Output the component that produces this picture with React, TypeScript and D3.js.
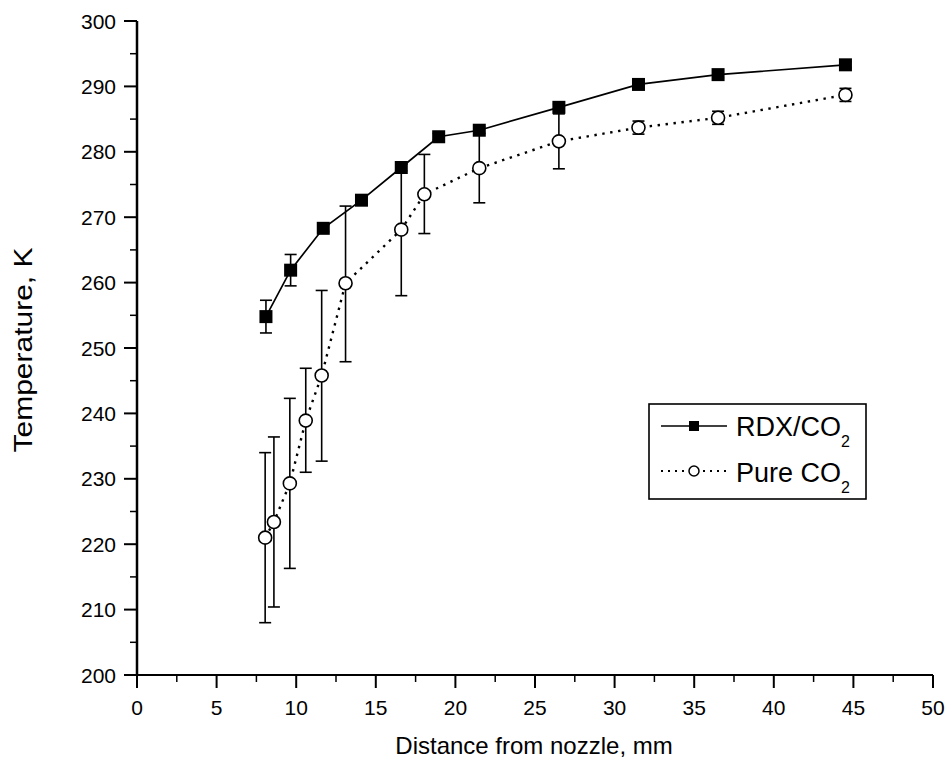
import React from "react";
import * as d3 from "d3";

// RDX/CO2 series
const rdxX = [8.1, 9.65, 11.7, 14.1, 16.6, 18.95, 21.5, 26.5, 31.5, 36.5, 44.5];
const rdxY = [254.8, 261.9, 268.3, 272.6, 277.6, 282.3, 283.3, 286.8, 290.3, 291.8, 293.3];
const rdxErr = [2.5, 2.4, 0.5, 0.5, 0.5, 0.5, 0.5, 0.5, 0.5, 0.5, 0.5];

// Pure CO2 series
const co2X = [8.05, 8.6, 9.6, 10.6, 11.6, 13.1, 16.6, 18.05, 21.5, 26.5, 31.5, 36.5, 44.5];
const co2Y = [221.0, 223.4, 229.3, 238.9, 245.8, 259.9, 268.1, 273.5, 277.5, 281.6, 283.7, 285.2, 288.7];
const co2Lo = [208.0, 210.4, 216.3, 231.0, 232.7, 247.9, 258.0, 267.5, 272.2, 277.4, 282.7, 284.2, 287.7];
const co2Hi = [234.0, 236.4, 242.3, 246.9, 258.8, 271.7, 278.1, 279.6, 282.8, 285.8, 284.7, 286.2, 289.7];

const xTicks = [0, 5, 10, 15, 20, 25, 30, 35, 40, 45, 50];
const yTicks = [200, 210, 220, 230, 240, 250, 260, 270, 280, 290, 300];
const xMinor = [2.5, 7.5, 12.5, 17.5, 22.5, 27.5, 32.5, 37.5, 42.5, 47.5];
const yMinor = [205, 215, 225, 235, 245, 255, 265, 275, 285, 295];

const xTitle = "Distance from nozzle, mm";
const yTitle = "Temperature, K";
const legendNames = ["RDX/CO", "Pure CO"];

const W = 946;
const H = 767;
const FONT = "'Liberation Sans', Arial, Helvetica, sans-serif";

export default function App() {
  const x = d3.scaleLinear().domain([0, 50]).range([137, 933]);
  const y = d3.scaleLinear().domain([200, 300]).range([675, 21]);

  const rdxPts: [number, number][] = rdxX.map((v, i) => [v, rdxY[i]]);
  const co2Pts: [number, number][] = co2X.map((v, i) => [v, co2Y[i]]);
  const line = d3
    .line<[number, number]>()
    .x((d) => x(d[0]))
    .y((d) => y(d[1]));

  const cap = 6;
  const sq = 13;
  const r = 6.5;

  const lgX = 649, lgY = 404, lgW = 217, lgH = 95;

  return (
    <svg
      width={W}
      height={H}
      style={{ position: "absolute", left: 0, top: 0, background: "#fff" }}
      fontFamily={FONT}
    >
      <rect x={0} y={0} width={W} height={H} fill="#fff" />
      {/* axes */}
      <line x1={x(0)} x2={x(50)} y1={y(200)} y2={y(200)} stroke="#000" strokeWidth={2} />
      <line x1={x(0)} x2={x(0)} y1={y(200)} y2={y(300)} stroke="#000" strokeWidth={2.5} />
      {xTicks.map((t) => (
        <g key={"xt" + t}>
          <line x1={x(t)} x2={x(t)} y1={y(200)} y2={y(200) + 13} stroke="#000" strokeWidth={2} />
          <text x={x(t)} y={715} fontSize={21} textAnchor="middle" fill="#000">
            {t}
          </text>
        </g>
      ))}
      {xMinor.map((t) => (
        <line key={"xm" + t} x1={x(t)} x2={x(t)} y1={y(200)} y2={y(200) + 7} stroke="#000" strokeWidth={1.5} />
      ))}
      {yTicks.map((t) => (
        <g key={"yt" + t}>
          <line x1={x(0) - 13} x2={x(0)} y1={y(t)} y2={y(t)} stroke="#000" strokeWidth={2} />
          <text x={116} y={y(t) + 7.5} fontSize={21} textAnchor="end" fill="#000">
            {t}
          </text>
        </g>
      ))}
      {yMinor.map((t) => (
        <line key={"ym" + t} x1={x(0) - 7} x2={x(0)} y1={y(t)} y2={y(t)} stroke="#000" strokeWidth={1.5} />
      ))}
      <text x={(x(0) + x(50)) / 2 - 1} y={754} fontSize={24} textAnchor="middle" fill="#000">
        {xTitle}
      </text>
      <text
        transform={`translate(32, ${(y(200) + y(300)) / 2 + 2}) rotate(-90)`}
        fontSize={26}
        textAnchor="middle"
        textLength={205}
        lengthAdjust="spacingAndGlyphs"
        fill="#000"
      >
        {yTitle}
      </text>

      {/* lines */}
      <path d={line(rdxPts) || ""} fill="none" stroke="#000" strokeWidth={1.7} />
      <path d={line(co2Pts) || ""} fill="none" stroke="#000" strokeWidth={2.4} strokeDasharray="2.4 5.6" />

      {/* error bars */}
      {co2X.map((v, i) => (
        <g key={"ce" + i} stroke="#000" strokeWidth={1.6}>
          <line x1={x(v)} x2={x(v)} y1={y(co2Lo[i])} y2={y(co2Hi[i])} />
          <line x1={x(v) - cap} x2={x(v) + cap} y1={y(co2Lo[i])} y2={y(co2Lo[i])} />
          <line x1={x(v) - cap} x2={x(v) + cap} y1={y(co2Hi[i])} y2={y(co2Hi[i])} />
        </g>
      ))}
      {rdxX.map((v, i) => (
        <g key={"re" + i} stroke="#000" strokeWidth={1.6}>
          <line x1={x(v)} x2={x(v)} y1={y(rdxY[i] - rdxErr[i])} y2={y(rdxY[i] + rdxErr[i])} />
          <line x1={x(v) - cap} x2={x(v) + cap} y1={y(rdxY[i] - rdxErr[i])} y2={y(rdxY[i] - rdxErr[i])} />
          <line x1={x(v) - cap} x2={x(v) + cap} y1={y(rdxY[i] + rdxErr[i])} y2={y(rdxY[i] + rdxErr[i])} />
        </g>
      ))}

      {/* markers */}
      {rdxX.map((v, i) => (
        <rect key={"rs" + i} x={x(v) - sq / 2} y={y(rdxY[i]) - sq / 2} width={sq} height={sq} fill="#000" />
      ))}
      {co2X.map((v, i) => (
        <circle key={"cc" + i} cx={x(v)} cy={y(co2Y[i])} r={r} fill="#fff" stroke="#000" strokeWidth={1.6} />
      ))}

      {/* legend */}
      <rect x={lgX} y={lgY} width={lgW} height={lgH} fill="#fff" stroke="#000" strokeWidth={1.6} />
      <line x1={661} x2={727} y1={426} y2={426} stroke="#000" strokeWidth={1.4} />
      <rect x={689} y={421} width={10} height={10} fill="#000" />
      <text x={736} y={436} fontSize={27} fill="#000">
        {legendNames[0]}
        <tspan fontSize={16} dy={11}>2</tspan>
      </text>
      <line x1={661} x2={727} y1={471} y2={471} stroke="#000" strokeWidth={2} strokeDasharray="2 5" />
      <circle cx={694} cy={471} r={5} fill="#fff" stroke="#000" strokeWidth={1.5} />
      <text x={736} y={482} fontSize={27} fill="#000">
        {legendNames[1]}
        <tspan fontSize={16} dy={11}>2</tspan>
      </text>
    </svg>
  );
}
